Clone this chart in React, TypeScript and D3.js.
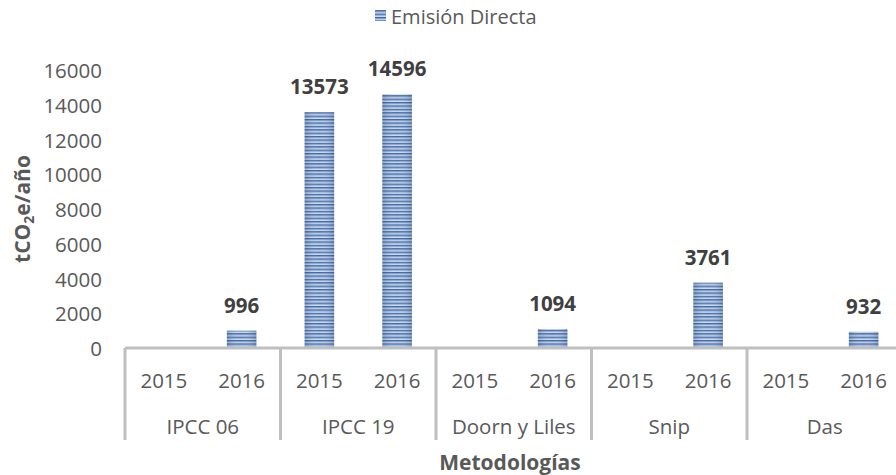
import React from "react";
import * as d3 from "d3";

const groups = ["IPCC 06", "IPCC 19", "Doorn y Liles", "Snip", "Das"];
const years = ["2015", "2016"];
const values2015 = [0, 13573, 0, 0, 0];
const values2016 = [996, 14596, 1094, 3761, 932];
const yTicks = [0, 2000, 4000, 6000, 8000, 10000, 12000, 14000, 16000];
const seriesName = "Emisión Directa";

const W = 896;
const H = 475;
const left = 125;
const groupW = 155.5;
const top = 70;
const bottom = 348;
const font = "'Open Sans', sans-serif";
const fs = 20.5;

export default function App() {
  const gx = d3.scaleBand<string>().domain(groups).range([left, left + groupW * groups.length]).padding(0);
  const sx = d3.scaleBand<string>().domain(years).range([0, gx.bandwidth()]).paddingInner(0.62).paddingOuter(0.31);
  const y = d3.scaleLinear().domain([0, 16000]).range([bottom, top]);

  const bars: { g: string; yr: string; v: number }[] = [];
  groups.forEach((g, i) => {
    bars.push({ g, yr: "2015", v: values2015[i] });
    bars.push({ g, yr: "2016", v: values2016[i] });
  });

  return (
    <svg width={W} height={H} style={{ position: "absolute", left: 0, top: 0, background: "#fff" }} fontFamily={font}>
      <defs>
        <pattern id="stripes" width="4" height="3.4" patternUnits="userSpaceOnUse">
          <rect width="4" height="3.4" fill="#cfdcee" />
          <rect y="0" width="4" height="1.4" fill="#3b64a2" />
          <rect y="1.4" width="4" height="0.7" fill="#7f9fd0" />
        </pattern>
        <linearGradient id="shade" x1="0" x2="1" y1="0" y2="0">
          <stop offset="0" stopColor="#1f3f70" stopOpacity="0.25" />
          <stop offset="0.5" stopColor="#ffffff" stopOpacity="0" />
          <stop offset="1" stopColor="#1f3f70" stopOpacity="0.25" />
        </linearGradient>
      </defs>

      {/* legend */}
      <rect x={375} y={10} width={11} height={11} fill="url(#stripes)" />
      <text x={391} y={16} dominantBaseline="central" fontSize={20} fill="#595959">{seriesName}</text>

      {/* y axis labels */}
      {yTicks.map((t) => (
        <text key={t} x={102} y={y(t)} textAnchor="end" dominantBaseline="central" fontSize={fs} fill="#595959">{t}</text>
      ))}

      {/* y title */}
      <text transform={`translate(22,${209}) rotate(-90)`} textAnchor="middle" dominantBaseline="central" fontSize={21} fontWeight="bold" fill="#595959">
        tCO<tspan fontSize={14} dy={6}>2</tspan><tspan dy={-6}>e/año</tspan>
      </text>

      {/* bars */}
      {bars.filter((b) => b.v > 0).map((b, i) => {
        const x = (gx(b.g) as number) + (sx(b.yr) as number);
        return (
          <g key={i}>
            <rect x={x} y={y(b.v)} width={sx.bandwidth()} height={bottom - y(b.v)} fill="url(#stripes)" />
            <rect x={x} y={y(b.v)} width={sx.bandwidth()} height={bottom - y(b.v)} fill="url(#shade)" />
            <text x={x + sx.bandwidth() / 2} y={y(b.v) - 26} textAnchor="middle" dominantBaseline="central" fontSize={fs} fontWeight="bold" fill="#404040">{b.v}</text>
          </g>
        );
      })}

      {/* x axis */}
      <line x1={left} x2={W} y1={bottom} y2={bottom} stroke="#bfbfbf" strokeWidth={3} />
      {groups.map((g) => (
        <line key={g} x1={gx(g) as number} x2={gx(g) as number} y1={bottom} y2={440} stroke="#bfbfbf" strokeWidth={3} />
      ))}
      {groups.map((g) =>
        years.map((yr) => {
          const cx = (gx(g) as number) + (gx.bandwidth() / 4) * (yr === "2015" ? 1 : 3);
          return (
            <text key={g + yr} x={cx} y={380} textAnchor="middle" dominantBaseline="central" fontSize={fs} fill="#595959">{yr}</text>
          );
        })
      )}
      {groups.map((g) => (
        <text key={g} x={(gx(g) as number) + gx.bandwidth() / 2} y={426} textAnchor="middle" dominantBaseline="central" fontSize={fs} fill="#595959">{g}</text>
      ))}
      <text x={510} y={462} textAnchor="middle" dominantBaseline="central" fontSize={21} fontWeight="bold" fill="#595959">Metodologías</text>
    </svg>
  );
}
